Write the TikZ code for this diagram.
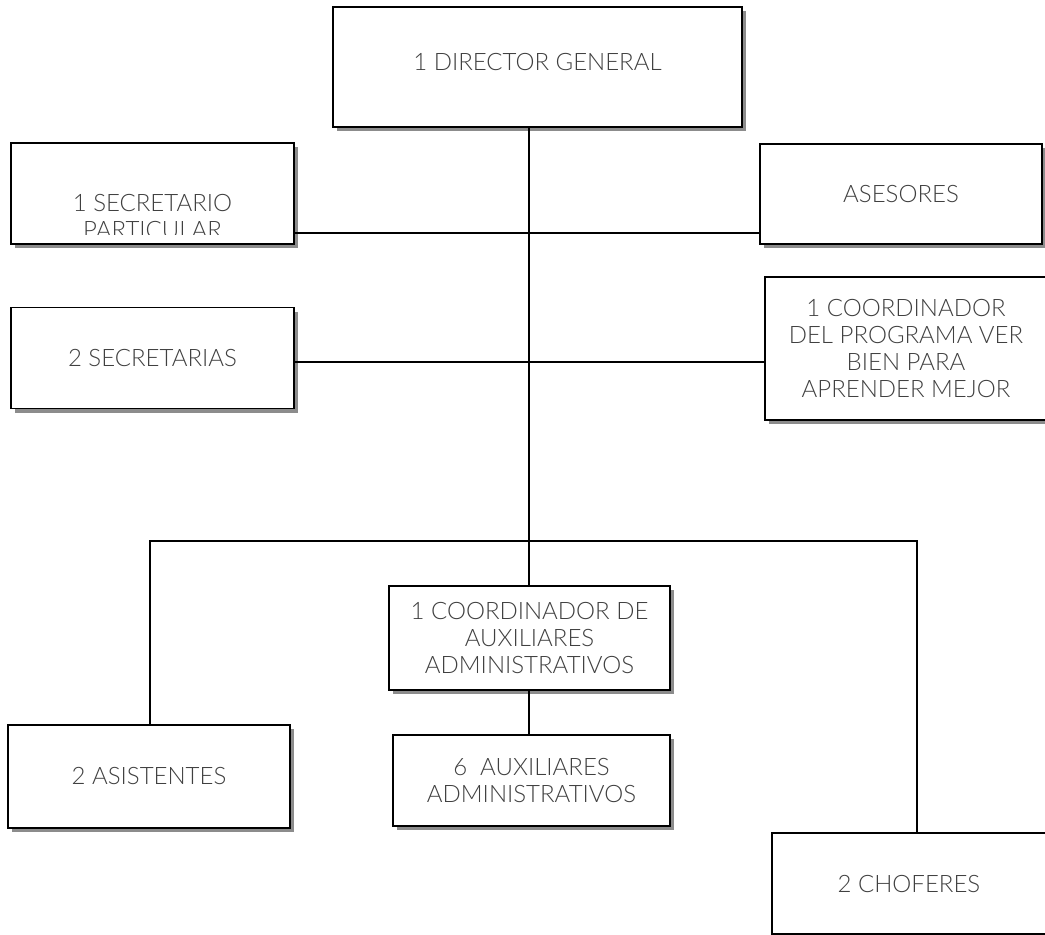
\documentclass[tikz,border=0pt]{standalone}
\usepackage{fontspec}
\setmainfont{Lato}[UprightFont=* Light]
\usetikzlibrary{shadows}

\begin{document}
\begin{tikzpicture}[x=1pt, y=-1pt, line width=1.5pt,
		puesto/.style={draw=black, fill=white, align=center, text=black!75, inner sep=0pt,
			font=\fontsize{24}{27}\selectfont,
			drop shadow={shadow xshift=4pt, shadow yshift=-4pt, fill=black!45, opacity=1}},
		texto/.style={align=center, text=black!75, inner sep=0pt, font=\fontsize{24}{27}\selectfont}]
	
	\useasboundingbox (0,0) rectangle (1045,935);
	
	% Director General
	\node[puesto, minimum width=409pt, minimum height=120pt] (director) at (537.5,67) {\raisebox{11pt}{1 DIRECTOR GENERAL}};
	
	% Secretario particular (el texto queda cortado)
	\node[puesto, minimum width=283pt, minimum height=101pt] (secpart) at (152.5,193.5) {};
	\begin{scope}
		\clip (secpart.north west) rectangle ([yshift=10pt]secpart.south east);
		\node[texto] (secparttxt) at (152.5,217) {1 SECRETARIO\\PARTICULAR};
	\end{scope}
	
	% Asesores
	\node[puesto, minimum width=282pt, minimum height=100pt] (asesores) at (901,194) {ASESORES};
	
	% Secretarias
	\node[puesto, minimum width=283pt, minimum height=101pt] (secretarias) at (152.5,358) {2 SECRETARIAS};
	
	% Coordinador del programa
	\node[puesto, minimum width=282pt, minimum height=143pt] (programa) at (906,348.5)
		{1 COORDINADOR\\DEL PROGRAMA VER\\BIEN PARA\\APRENDER MEJOR};
	
	% Coordinador de auxiliares
	\node[puesto, minimum width=281pt, minimum height=104pt] (coordaux) at (529.5,638)
		{1 COORDINADOR DE\\AUXILIARES\\ADMINISTRATIVOS};
	
	% Auxiliares
	\node[puesto, minimum width=277pt, minimum height=91pt] (auxiliares) at (531.5,780.5)
		{6 \ AUXILIARES\\ADMINISTRATIVOS};
	
	% Asistentes y choferes
	\node[puesto, minimum width=282pt, minimum height=103pt] (asistentes) at (149,776.5) {2 ASISTENTES};
	\node[puesto, minimum width=274pt, minimum height=101pt] (choferes) at (909,883.5) {2 CHOFERES};
	
	% Lineas
	\coordinate (l1) at (529,233);
	\coordinate (l2) at (529,362);
	\coordinate (l3) at (529,541);
	\coordinate (l3a) at (150,541);
	\coordinate (l3b) at (917,541);
	\draw (director.south -| l1) -- (coordaux.north -| l1);
	\draw (secpart.east |- l1) -- (asesores.west |- l1);
	\draw (secretarias.east |- l2) -- (programa.west |- l2);
	\draw (asistentes.north -| l3a) -- (l3a) -- (l3b) -- (choferes.north -| l3b);
	\draw (coordaux.south -| l1) -- (auxiliares.north -| l1);
	
\end{tikzpicture}
\end{document}
